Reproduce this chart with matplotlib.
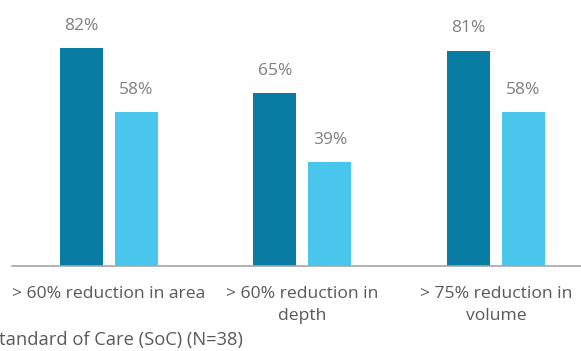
import matplotlib.pyplot as plt
import numpy as np

plt.rcParams['font.family'] = ['Open Sans', 'DejaVu Sans']

categories = ["> 60% reduction in area", "> 60% reduction in\ndepth", "> 75% reduction in\nvolume"]
treated = [82, 65, 81]
soc = [58, 39, 58]
value_labels_treated = ["82%", "65%", "81%"]
value_labels_soc = ["58%", "39%", "58%"]

DARK = "#087CA2"
LIGHT = "#4AC6EC"
TXT = "#7F7F7F"

fig = plt.figure(figsize=(5.81, 3.51), dpi=100)
ax = fig.add_axes([12 / 581, 85 / 351, 569 / 581, 266 / 351])

x = np.arange(len(categories))
w = 0.222
off = 0.142
b1 = ax.bar(x - off, treated, w, color=DARK, zorder=2)
b2 = ax.bar(x + off, soc, w, color=LIGHT, zorder=2)

for bars, labels in [(b1, value_labels_treated), (b2, value_labels_soc)]:
    for r, lab in zip(bars, labels):
        ax.text(r.get_x() + r.get_width() / 2, r.get_height() + 8.3, lab,
                ha='center', va='center', fontsize=12.5, color=TXT)

ax.set_xlim(-0.501, 2.44)
ax.set_ylim(0, 100)
for s in ['top', 'right', 'left']:
    ax.spines[s].set_visible(False)
ax.spines['bottom'].set_color('#A6A6A6')
ax.spines['bottom'].set_linewidth(1.2)
ax.set_yticks([])
ax.set_xticks(x)
ax.set_xticklabels(categories, fontsize=12.6, color='#595959', linespacing=1.45)
ax.tick_params(axis='x', length=0, pad=14.5)

fig.text(-11 / 581, 1 - 340 / 351, "Standard of Care (SoC) (N=38)", ha='left', va='center',
         fontsize=13.2, color='#595959')

fig.savefig("out.png", dpi=100, facecolor='white')
